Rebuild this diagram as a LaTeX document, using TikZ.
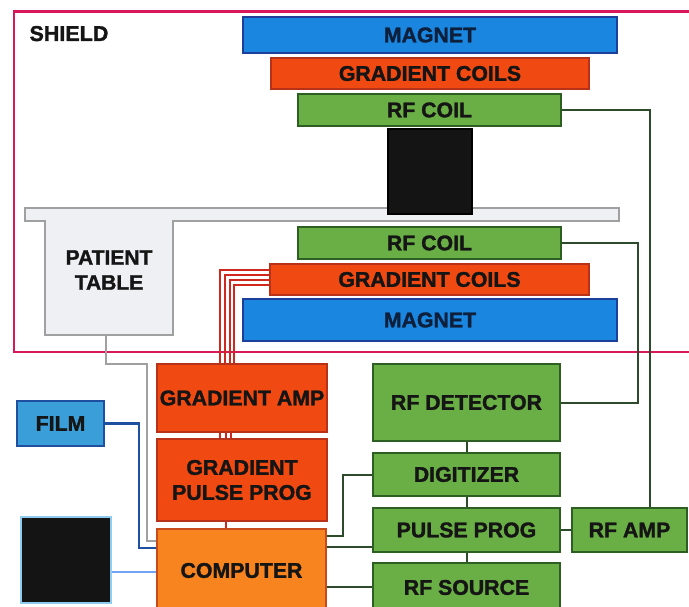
\documentclass[tikz,border=0pt]{standalone}
\usepackage{fontspec}
\setmainfont{Liberation Sans}[BoldFeatures={FakeBold=1.5}]
\definecolor{shieldc}{HTML}{D8185A}
\definecolor{magf}{HTML}{1A86E0}
\definecolor{magd}{HTML}{1D3F9A}
\definecolor{gradf}{HTML}{F04A12}
\definecolor{gradd}{HTML}{B8321A}
\definecolor{rff}{HTML}{6AAF45}
\definecolor{rfd}{HTML}{2D5E22}
\definecolor{compf}{HTML}{F7841E}
\definecolor{compd}{HTML}{C84A1A}
\definecolor{filmf}{HTML}{3A9FD8}
\definecolor{filmd}{HTML}{1F4FA0}
\definecolor{monb}{HTML}{8ECDF0}
\definecolor{tablef}{HTML}{EEF0F4}
\definecolor{tabled}{HTML}{A0A0A0}
\definecolor{txt}{HTML}{151515}
\definecolor{magtxt}{HTML}{0D1F3A}
\definecolor{wirec}{HTML}{D0281E}
\definecolor{rfw}{HTML}{2D4A2A}
\begin{document}
\begin{tikzpicture}[x=1pt,y=-1pt,
  blk/.style={rectangle, line width=1.8pt, inner sep=0pt, text=txt,
    font=\fontsize{21.3}{25}\selectfont\bfseries, align=center},
  magbox/.style={blk, fill=magf, draw=magd, text=magtxt},
  gradbox/.style={blk, fill=gradf, draw=gradd},
  rfbox/.style={blk, fill=rff, draw=rfd},
  compbox/.style={blk, fill=compf, draw=compd},
  filmbox/.style={blk, fill=filmf, draw=filmd},
  monbox/.style={blk, fill=black!92, draw=monb, line width=1.5pt},
  sz/.style 2 args={minimum width=#1pt, minimum height=#2pt},
  rfline/.style={draw=rfw, line width=2pt},
  gwire/.style={draw=wirec, line width=1.6pt},
  filmline/.style={draw=filmd, line width=2.2pt},
  tableline/.style={draw=tabled, line width=1.5pt},
  monline/.style={draw=monb!80!blue, line width=1.5pt}]
\useasboundingbox (0,0) rectangle (689,607);

% shielded room
\draw[shieldc, line width=2.2pt] (14,11.5) rectangle (700,352);
\node[anchor=base west, text=txt, font=\fontsize{21.5}{25}\selectfont\bfseries] (shield) at (26,41) {SHIELD};

% patient table
\draw[tabled, fill=tablef, line width=1.5pt]
  (25,208) -- (619,208) -- (619,221) -- (173,221) -- (173,335)
  -- (45,335) -- (45,221) -- (25,221) -- cycle;
\node[text=txt, font=\fontsize{21}{25}\selectfont\bfseries, align=center] (table) at (109,270) {PATIENT\\TABLE};
\coordinate (tbl) at (106,335);

% magnet assembly
\node[magbox, sz={374}{36}] (magT) at (430,35) {MAGNET};
\node[gradbox, sz={318}{31}] (gradT) at (430,73.5) {GRADIENT COILS};
\node[rfbox, sz={263}{32}] (rfT) at (429.5,110) {RF COIL};
\node[blk, fill=black!92, draw=black, sz={84}{85}] (bore) at (430,171.5) {};
\node[rfbox, sz={263}{32}] (rfB) at (429.5,243) {RF COIL};
\node[gradbox, sz={319}{31}] (gradB) at (429.5,279.5) {GRADIENT COILS};
\node[magbox, sz={374}{42}] (magB) at (430,320) {MAGNET};

% electronics
\node[gradbox, sz={170}{68}] (gamp) at (242,398) {GRADIENT AMP};
\node[gradbox, sz={170}{82}] (gpp) at (242,480) {GRADIENT\\PULSE PROG};
\node[compbox, sz={169}{83}] (comp) at (241.5,570.5) {COMPUTER};
\node[filmbox, sz={87}{45}] (film) at (60.5,423.5) {FILM};
\node[monbox, sz={90}{86}] (mon) at (66,560) {};
\node[rfbox, sz={187}{77}] (rfdet) at (466.5,402.5) {RF DETECTOR};
\node[rfbox, sz={187}{43}] (dig) at (466.5,474.5) {DIGITIZER};
\node[rfbox, sz={187}{44}] (pp) at (466.5,530) {PULSE PROG};
\node[rfbox, sz={187}{49}] (rfsrc) at (466.5,587.5) {RF SOURCE};
\node[rfbox, sz={115}{44}] (rfamp) at (629.5,530) {RF AMP};

% RF connections
\draw[rfline] (rfT.east) -| ([xshift=-38pt]rfamp.north east);
\draw[rfline] (rfdet.east) -- ++(77,0) |- (rfB.east);
\draw[rfline] (rfdet.south) -- (dig.north);
\draw[rfline] (dig.south) -- (pp.north);
\draw[rfline] (pp.south) -- (rfsrc.north);
\draw[rfline] (pp.east) -- (rfamp.west);
\draw[rfline] ([yshift=34.5pt]comp.east) -- ++(16,0) |- (dig.west);
\draw[rfline] ([yshift=23.5pt]comp.east) -- ([yshift=-17pt]pp.west);
\draw[rfline] ([yshift=-16.5pt]comp.east) -- ([yshift=0.5pt]rfsrc.west);

% gradient wiring
\draw[gwire] ([yshift=-7pt]gradB.north west) -| ([xshift=64pt]gamp.north west);
\draw[gwire] ([yshift=-12pt]gradB.north west) -| ([xshift=69pt]gamp.north west);
\draw[gwire] ([yshift=-17pt]gradB.north west) -| ([xshift=74pt]gamp.north west);
\draw[gwire] ([yshift=-22pt]gradB.north west) -| ([xshift=78pt]gamp.north west);
\foreach \dx in {64,70,75}
  \draw[gwire] ([xshift=\dx pt]gamp.south west) -- ([xshift=\dx pt]gpp.north west);
\draw[gwire] ([xshift=70pt]gpp.south west) -- ([xshift=70pt]comp.north west);

% peripherals
\draw[filmline] (film.east) -- ++(34,0) |- ([yshift=22.5pt]comp.west);
\draw[tableline] (tbl) -- ++(0,29) -- ++(41,0) |- ([yshift=29.5pt]comp.west);
\draw[monline] ([yshift=-12pt]mon.east) -- ([yshift=-1.5pt]comp.west);
\end{tikzpicture}
\end{document}
